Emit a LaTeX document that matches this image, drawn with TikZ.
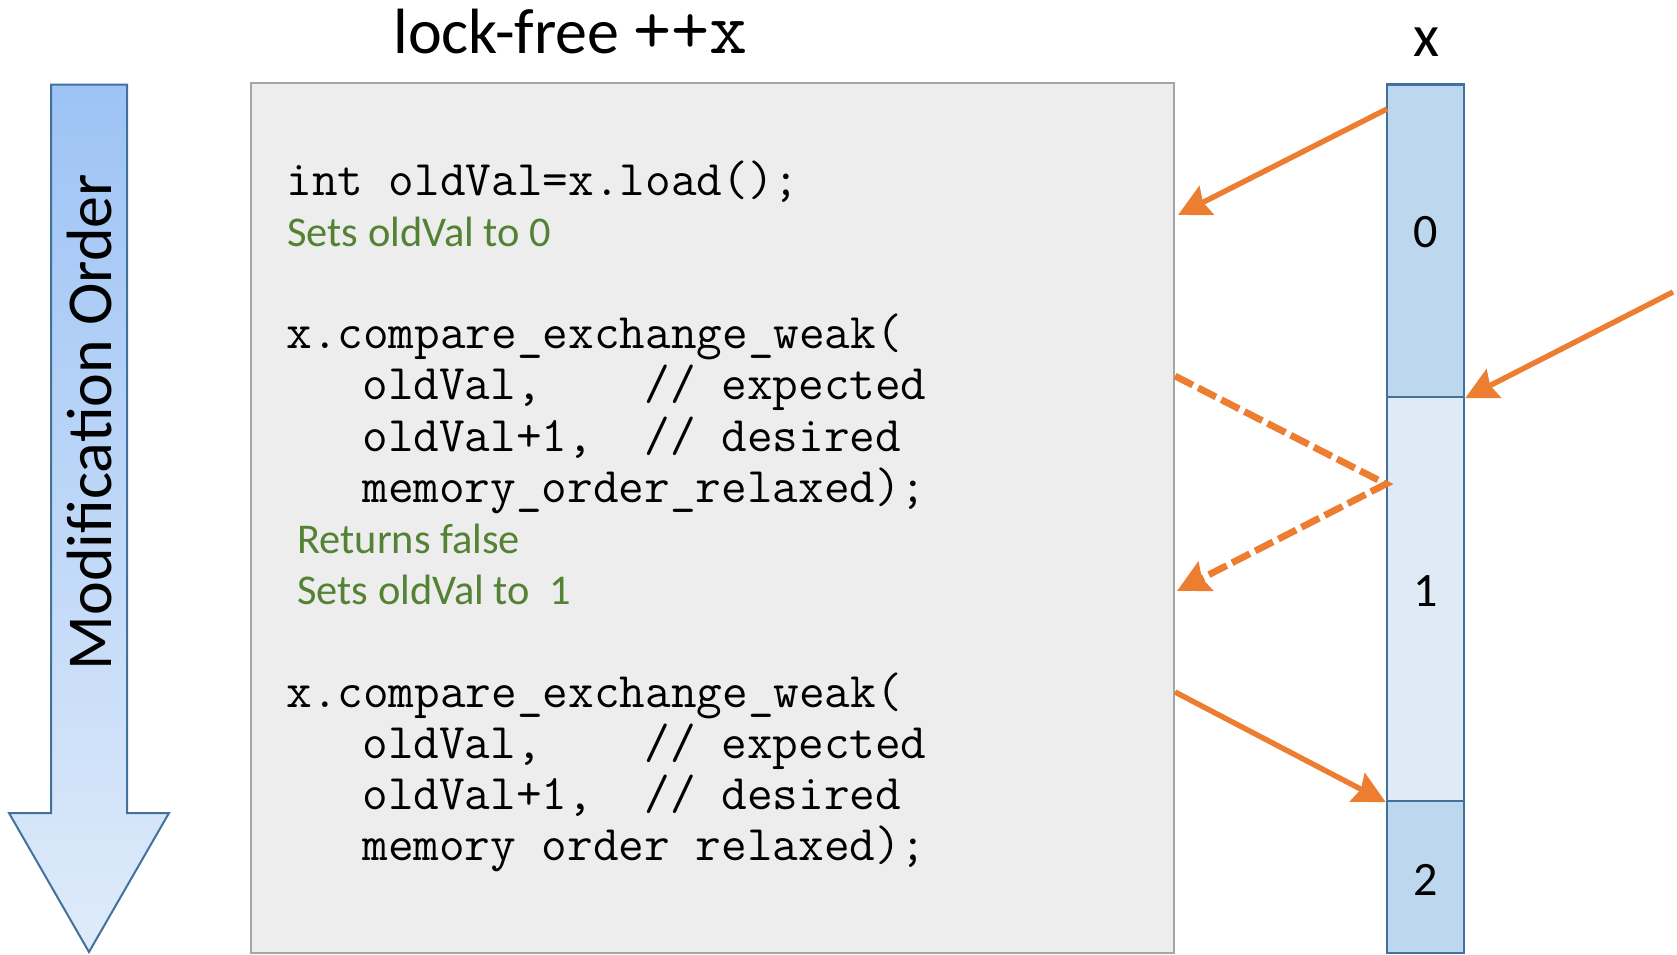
\documentclass[tikz,border=0pt]{standalone}
\usepackage{fontspec}
\setmainfont{Carlito}
\usepackage{tikz}
\usetikzlibrary{arrows.meta}

\definecolor{orangeline}{HTML}{ED7D31}
\definecolor{notegreen}{HTML}{548235}
\definecolor{boxgray}{HTML}{EDEDED}
\definecolor{boxedge}{HTML}{A5A5A5}
\definecolor{celldark}{HTML}{BDD7EE}
\definecolor{celllight}{HTML}{DEEBF7}
\definecolor{celledge}{HTML}{41719C}
\definecolor{ordertop}{HTML}{9DC3F5}
\definecolor{orderbottom}{HTML}{DFEBFA}

\tikzset{codeline/.style={anchor=base west, inner sep=0pt, font=\ttfamily\fontsize{24.9}{25}\selectfont},
	noteline/.style={anchor=base west, inner sep=0pt, text=notegreen, font=\fontsize{21.2}{25}\selectfont},
	cell/.style={draw=celledge, line width=1.2pt, minimum width=38.5pt, inner sep=0pt},
	digit/.style={inner sep=0pt, font=\fontsize{24}{28}\selectfont},
	access/.style={color=orangeline, line width=2.7pt, -{Stealth[length=16pt,width=16pt,inset=2pt]}},
	failed/.style={access, line width=3.4pt, dash pattern=on 10pt off 3pt}}

\begin{document}
\begin{tikzpicture}[x=0.5pt,y=-0.5pt]
	\useasboundingbox (0,0) rectangle (1677,954);

	% modification order arrow
	\path[draw=celledge, line width=1pt, top color=ordertop, bottom color=orderbottom]
		(51,84.5) -- (127,84.5) -- (127,813) -- (169,813) -- (89,952) -- (9,813) -- (51,813) -- cycle;
	\node[rotate=90, inner sep=0pt, font=\fontsize{32}{36}\selectfont] (order) at (90,422) {Modification Order};

	\node[anchor=base west, inner sep=0pt] (title) at (393,53) {\fontsize{32}{36}\selectfont lock-free {\ttfamily\fontsize{37}{38}\selectfont ++x}};
	\node[draw=boxedge, fill=boxgray, line width=1.1pt, minimum width=461.5pt, minimum height=435pt, inner sep=0pt] (code) at (712.5,518) {};

	\node[codeline] (load) at (286,195) {int oldVal=x.load();};
	\node[noteline] (sets0) at (287,246.2) {Sets oldVal to 0};
	\node[codeline] (cas1) at (286,348.6) {x.compare\_exchange\_weak(};
	\node[codeline] (exp1) at (362,399.8) {oldVal,\ \ \ \ // expected};
	\node[codeline] (des1) at (362,451) {oldVal+1,\ \ // desired};
	\node[codeline] (mo1) at (362,502.2) {memory\_order\_relaxed);};
	\node[noteline] (ret) at (297,553.4) {Returns false};
	\node[noteline] (sets1) at (297,604.6) {Sets oldVal to\ \ 1};
	\node[codeline] (cas2) at (286,707) {x.compare\_exchange\_weak(};
	\node[codeline] (exp2) at (362,758.2) {oldVal,\ \ \ \ // expected};
	\node[codeline] (des2) at (362,809.4) {oldVal+1,\ \ // desired};
	\node[codeline] (mo2) at (362,860.6) {memory order relaxed);};

	% the variable x
	\node[anchor=base, inner sep=0pt, font=\fontsize{30}{36}\selectfont] (xname) at (1426,56) {x};
	\node[cell, fill=celldark, minimum height=156.25pt] (c0) at (1425.5,240.75) {};
	\node[cell, fill=celllight, minimum height=202pt] (c1) at (1425.5,599) {};
	\node[cell, fill=celldark, minimum height=76pt] (c2) at (1425.5,877) {};
	\node[digit] (v0) at (1426,232) {0};
	\node[digit] (v1) at (1426,591) {1};
	\node[digit] (v2) at (1426,880) {2};

	\coordinate (rd0) at (1387,109);
	\coordinate (ld0) at (1178,215);
	\coordinate (other) at (1673,292);
	\coordinate (try1) at (1175,376);
	\coordinate (meet) at (1386,484);
	\coordinate (got1) at (1177,591);
	\coordinate (try2) at (1175,692);

	\path [access] (rd0) edge (ld0);
	\path [access] (other) edge (c0.south east);
	\draw [failed] (try1) -- (meet) -- (got1);
	\path [access] (try2) edge (c1.south west);
\end{tikzpicture}
\end{document}
